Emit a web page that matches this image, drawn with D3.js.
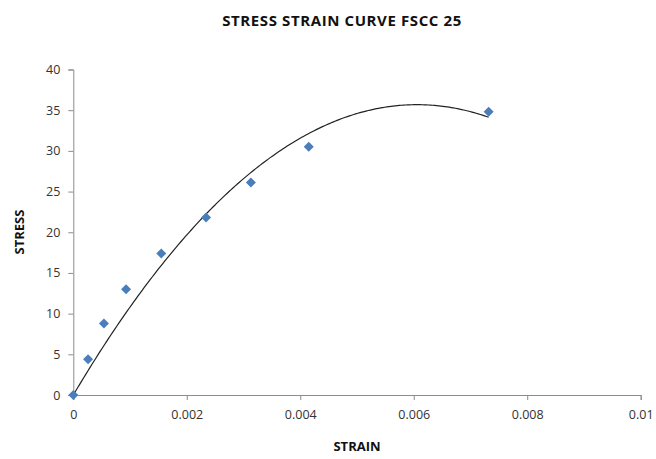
<!DOCTYPE html>
<html lang="en">
<head>
<meta charset="utf-8">
<title>Stress Strain Curve</title>
<script src="https://d3js.org/d3.v7.min.js"></script>
<style>
  body { margin: 0; background: #fff; }
  text { font-family: "Open Sans", "DejaVu Sans", sans-serif; }
</style>
</head>
<body>
<script>
// data
var strain = [0, 0.00026, 0.00054, 0.00093, 0.00155, 0.00234, 0.00313, 0.00415, 0.00732];
var stress = [0, 4.4, 8.8, 13.0, 17.4, 21.8, 26.1, 30.5, 34.8];
var xTicks = [0, 0.002, 0.004, 0.006, 0.008, 0.01];
var yTicks = [0, 5, 10, 15, 20, 25, 30, 35, 40];

var w = 656, h = 459;
var svg = d3.select("body").append("svg").attr("width", w).attr("height", h);

var x = d3.scaleLinear().domain([0, 0.01]).range([73.3, 640.7]);
var y = d3.scaleLinear().domain([0, 40]).range([395, 69.5]);

// axes
var xAxis = svg.append("g").attr("transform", "translate(0," + y(0) + ")")
  .call(d3.axisBottom(x).tickValues(xTicks).tickSize(5).tickPadding(10)
    .tickFormat(function(d) { return d === 0 ? "0" : String(+d.toFixed(3)); }));
var yAxis = svg.append("g").attr("transform", "translate(" + x(0) + ",0)")
  .call(d3.axisLeft(y).tickValues(yTicks).tickSize(5).tickPadding(8));

[xAxis, yAxis].forEach(function(a) {
  a.select(".domain").attr("stroke", "#8c8c8c");
  a.selectAll(".tick line").attr("stroke", "#8c8c8c");
  a.selectAll(".tick text").attr("fill", "#333").style("font-size", "12.5px");
});

// 2nd order polynomial trendline, intercept set to 0 (least squares)
var sxx = 0, sx3 = 0, sx4 = 0, sxy = 0, sx2y = 0;
strain.forEach(function(xv, i) {
  var yv = stress[i];
  sxx += xv * xv; sx3 += xv * xv * xv; sx4 += xv * xv * xv * xv;
  sxy += xv * yv; sx2y += xv * xv * yv;
});
var det = sxx * sx4 - sx3 * sx3;
var a1 = (sxy * sx4 - sx3 * sx2y) / det;
var a2 = (sxx * sx2y - sx3 * sxy) / det;

var xMax = strain[strain.length - 1];
var xs = d3.range(0, xMax, xMax / 200).concat([xMax]);
var line = d3.line()
  .x(function(d) { return x(d); })
  .y(function(d) { return y(a1 * d + a2 * d * d); });
svg.append("path").datum(xs).attr("d", line)
  .attr("fill", "none").attr("stroke", "#222").attr("stroke-width", 1.2);

// markers
var pts = strain.map(function(d, i) { return [d, stress[i]]; });
svg.selectAll(".pt").data(pts).enter().append("path")
  .attr("class", "pt")
  .attr("d", d3.symbol().type(d3.symbolDiamond2).size(64))
  .attr("transform", function(d) { return "translate(" + x(d[0]) + "," + y(d[1]) + ")"; })
  .attr("fill", "#4a7ebb");

// titles
svg.append("text").attr("x", 342).attr("y", 26).attr("text-anchor", "middle")
  .style("font-size", "15px").style("font-weight", "bold").style("letter-spacing", "0.6px")
  .attr("fill", "#111")
  .text("STRESS STRAIN CURVE FSCC 25");
svg.append("text").attr("x", 357).attr("y", 451).attr("text-anchor", "middle")
  .style("font-size", "13px").style("font-weight", "bold").attr("fill", "#111")
  .text("STRAIN");
svg.append("text").attr("transform", "translate(24,232) rotate(-90)").attr("text-anchor", "middle")
  .style("font-size", "13px").style("font-weight", "bold").attr("fill", "#111")
  .text("STRESS");
</script>
</body>
</html>
